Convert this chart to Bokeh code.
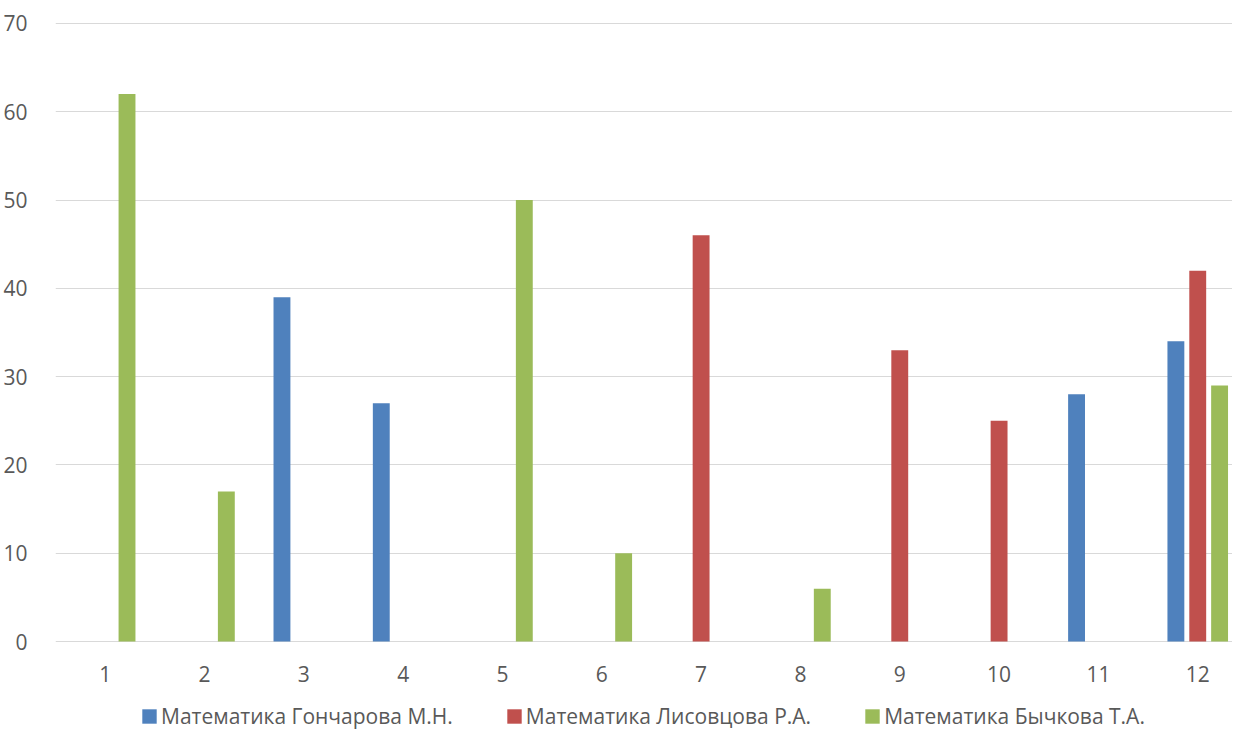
import numpy as np
from bokeh.plotting import figure
from bokeh.layouts import column
from bokeh.models import Legend, LegendItem, FixedTicker, ColumnDataSource
from bokeh.embed import file_html
from bokeh.resources import INLINE

categories = [1, 2, 3, 4, 5, 6, 7, 8, 9, 10, 11, 12]
series_names = ["Математика Гончарова М.Н.", "Математика Лисовцова Р.А.", "Математика Бычкова Т.А."]
goncharova = [None, None, 39, 27, None, None, None, None, None, None, 28, 34]
lisovtsova = [None, None, None, None, None, None, 46, None, 33, 25, None, 42]
bychkova = [62, 17, None, None, 50, 10, None, 6, None, None, None, 29]
colors = ["#4F81BD", "#C0504D", "#9BBB59"]
y_ticks = [0, 10, 20, 30, 40, 50, 60, 70]

FONT = "Open Sans"
TXT = "#595959"

p = figure(width=1232, height=698, output_backend="svg", toolbar_location=None,
           x_range=(0.5, 12.35), y_range=(-0.1, 70.1),
           min_border_left=48, min_border_right=0, min_border_top=22, min_border_bottom=56)
p.outline_line_color = None
p.background_fill_color = "white"
p.border_fill_color = "white"

offsets = [-0.22, 0.0, 0.22]
for vals, off, col in zip([goncharova, lisovtsova, bychkova], offsets, colors):
    x = [c + off for c in categories]
    top = [np.nan if v is None else v for v in vals]
    src = ColumnDataSource(dict(x=x, top=top))
    p.vbar(x="x", top="top", bottom=0, width=0.17, source=src,
           fill_color=col, line_color=None)

p.xgrid.grid_line_color = None
p.ygrid.grid_line_color = "#D9D9D9"
p.ygrid.grid_line_width = 1
p.ygrid.ticker = FixedTicker(ticks=y_ticks)

p.xaxis.ticker = FixedTicker(ticks=categories)
p.yaxis.ticker = FixedTicker(ticks=y_ticks)
for ax in (p.xaxis[0], p.yaxis[0]):
    ax.axis_line_color = None
    ax.major_tick_line_color = None
    ax.minor_tick_line_color = None
    ax.major_label_text_font = FONT
    ax.major_label_text_font_size = "21px"
    ax.major_label_text_color = TXT
p.yaxis.major_label_standoff = 22
p.xaxis.major_label_standoff = 17

# legend strip (its own small figure, no axes)
lg = figure(width=1232, height=32, output_backend="svg", toolbar_location=None,
            x_range=(0, 1), y_range=(0, 1), x_axis_location=None, y_axis_location=None,
            min_border_left=48, min_border_right=0, min_border_top=0, min_border_bottom=0)
for g in lg.grid:
    g.grid_line_color = None
    g.visible = False
lg.outline_line_color = None
lg.background_fill_color = "white"
lg.border_fill_color = "white"
swatches = []
for col in colors:
    # hidden swatch renderers (outside the visible range), used only for legend glyphs
    swatches.append(lg.vbar(x=[5], top=[1], bottom=0, width=0.1, fill_color=col, line_color=None))

legend = Legend(items=[LegendItem(label=n, renderers=[r]) for n, r in zip(series_names, swatches)],
                orientation="horizontal", location=(85, 0),
                label_text_font=FONT, label_text_font_size="21px", label_text_color=TXT,
                glyph_width=18, glyph_height=18, label_standoff=3, spacing=52,
                border_line_color=None, background_fill_alpha=0, padding=0, margin=0)
lg.add_layout(legend, "center")

layout = column(p, lg, spacing=0)
open("out.html", "w").write(file_html(layout, INLINE))
